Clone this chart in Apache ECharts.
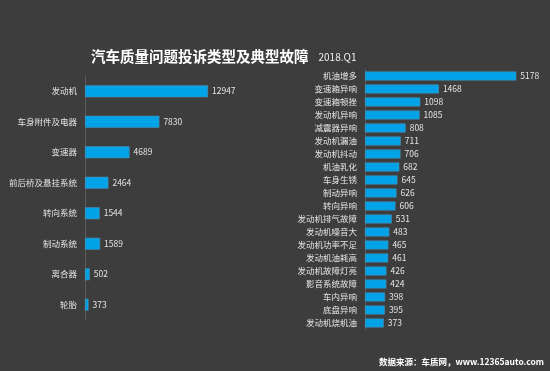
<!DOCTYPE html>
<html><head><meta charset="utf-8">
<script src="https://cdn.jsdelivr.net/npm/echarts@6/dist/echarts.min.js"></script>
<style>html,body{margin:0;padding:0;background:#3d3d3d;}#c{width:550px;height:371px;}</style>
</head><body><div id="c"></div>
<script>
var leftCategories = ['发动机','车身附件及电器','变速器','前后桥及悬挂系统','转向系统','制动系统','离合器','轮胎'];
var leftValues = [12947,7830,4689,2464,1544,1589,502,373];
var rightCategories = ['机油增多','变速箱异响','变速箱顿挫','发动机异响','减震器异响','发动机漏油','发动机抖动','机油乳化','车身生锈','制动异响','转向异响','发动机排气故障','发动机噪音大','发动机功率不足','发动机油耗高','发动机故障灯亮','影音系统故障','车内异响','底盘异响','发动机烧机油'];
var rightValues = [5178,1468,1098,1085,808,711,706,682,645,626,606,531,483,465,461,426,424,398,395,373];
var titleText = '汽车质量问题投诉类型及典型故障';
var subText = '2018.Q1';
var sourceText = '数据来源：车质网，www.12365auto.com';

var FONT = '"Noto Sans CJK SC", "Noto Sans", sans-serif';
var txt = '#e4e4e4';
var barColor = '#00a2e8';
var chart = echarts.init(document.getElementById('c'));
function yAx(gi, cats){
  return {type:'category', gridIndex:gi, data:cats, inverse:true,
    axisLine:{show:true, lineStyle:{color:'#5c5c5c', width:1}},
    axisTick:{show:false},
    axisLabel:{color:txt, fontSize:8.5, fontFamily:FONT, margin:8}};
}
function xAx(gi, max){
  return {type:'value', gridIndex:gi, min:0, max:max, show:false, splitLine:{show:false}};
}
function ser(i, vals, bw){
  return {type:'bar', xAxisIndex:i, yAxisIndex:i, data:vals, barWidth:bw, clip:true,
    itemStyle:{color:barColor, borderColor:'#4f8fb0', borderWidth:0.6},
    label:{show:true, position:'right', distance:4, color:txt, fontSize:8.5, fontFamily:FONT},
    animation:false};
}
chart.setOption({
  backgroundColor:'#3d3d3d',
  animation:false,
  title:{left:86, top:42, text:'{a|'+titleText+'}  {b|'+subText+'}',
    textStyle:{rich:{
      a:{fontSize:14.5, fontWeight:'bold', color:'#ffffff', fontFamily:FONT},
      b:{fontSize:10, fontWeight:'normal', color:'#f0f0f0', fontFamily:FONT, padding:[2,0,0,0]}
    }}},
  grid:[
    {left:85, top:76, width:123.5, height:244},
    {left:365, top:69.5, width:151, height:260}
  ],
  xAxis:[xAx(0,13000), xAx(1,3000)],
  yAxis:[yAx(0,leftCategories), yAx(1,rightCategories)],
  series:[ser(0,leftValues,12), ser(1,rightValues,9)],
  graphic:[{type:'text', right:6, top:358,
    style:{text:sourceText, fill:'#ffffff', font:'bold 8.5px '+FONT}}]
});
</script></body></html>
